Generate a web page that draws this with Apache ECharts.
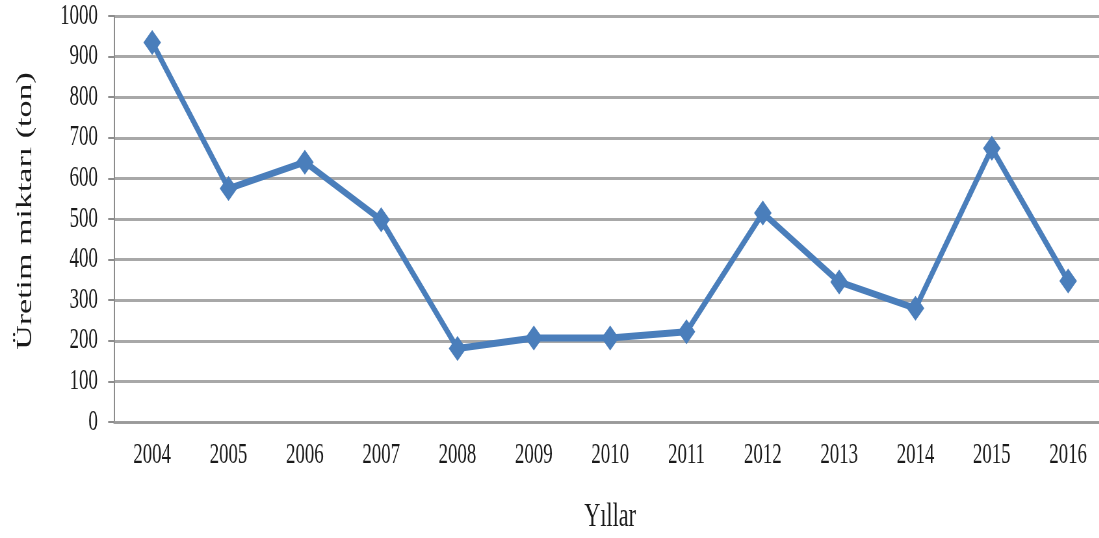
<!DOCTYPE html>
<html>
<head>
<meta charset="utf-8">
<script src="https://cdn.jsdelivr.net/npm/echarts@6/dist/echarts.min.js"></script>
<style>
html, body { margin:0; padding:0; width:1099px; height:538px; overflow:hidden; background:#fff; }
#chart { position:absolute; left:0; top:0; width:1691px; height:538px; transform:scaleX(0.65); transform-origin:0 0; }
</style>
</head>
<body>
<div id="chart"></div>
<script>
var years = ['2004','2005','2006','2007','2008','2009','2010','2011','2012','2013','2014','2015','2016'];
var production = [935, 575, 640, 498, 181, 207, 207, 222, 515, 345, 280, 674, 347];
var yTicks = { min: 0, max: 1000, interval: 100 };
var xName = 'Yıllar';
var yName = 'Üretim miktarı (ton)';

var serif = '"Liberation Serif", "Times New Roman", serif';
var chart = echarts.init(document.getElementById('chart'), null, { renderer: 'canvas' });
chart.setOption({
  backgroundColor: '#ffffff',
  animation: false,
  grid: { left: 175.4, right: -11, top: 16, bottom: 116, outerBoundsMode: 'none', containLabel: false },
  xAxis: {
    type: 'category',
    data: years,
    boundaryGap: true,
    name: xName,
    nameLocation: 'middle',
    nameGap: 78,
    nameTextStyle: { fontFamily: serif, fontSize: 34, color: '#1a1a1a' },
    axisLine: { show: true, lineStyle: { color: '#9a9a9a', width: 2.5 } },
    axisTick: { show: false },
    axisLabel: { margin: 19, fontFamily: serif, fontSize: 29, color: '#1a1a1a' },
    splitLine: { show: false }
  },
  yAxis: {
    type: 'value',
    min: yTicks.min,
    max: yTicks.max,
    interval: yTicks.interval,
    name: yName,
    nameLocation: 'middle',
    nameGap: 119,
    nameRotate: 90,
    nameTextStyle: { fontFamily: serif, fontSize: 34, color: '#1a1a1a', padding: [0, 0, 0, 16] },
    axisLine: { show: true, lineStyle: { color: '#8c8c8c', width: 2 } },
    axisTick: { show: true, length: 9, lineStyle: { color: '#8c8c8c', width: 2 } },
    axisLabel: { margin: 25, fontFamily: serif, fontSize: 29, color: '#1a1a1a', formatter: function (v) { return String(v); } },
    splitLine: { show: true, lineStyle: { color: '#a8a8a8', width: 3 } }
  },
  series: [{
    type: 'line',
    data: production,
    symbol: 'diamond',
    symbolSize: [27, 25],
    showAllSymbol: true,
    itemStyle: { color: '#4a7ebb' },
    lineStyle: { color: '#4a7ebb', width: 7 },
    z: 5
  }]
});
</script>
</body>
</html>
